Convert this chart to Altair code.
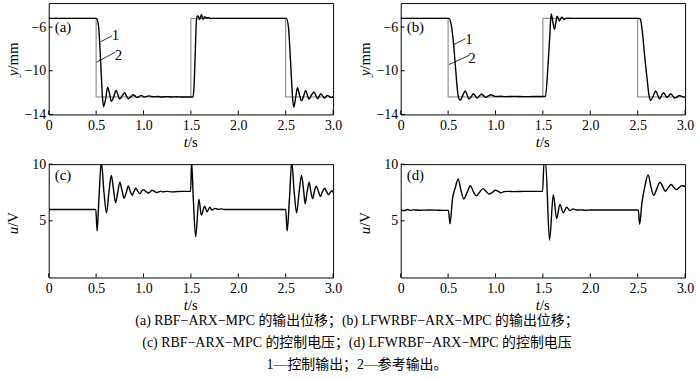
import altair as alt
import pandas as pd

FONT = "Liberation Serif, 'Noto Sans CJK SC', serif"
W, H1, H2 = 286, 112, 114

# ---- tick values ----
x_ticks = [0, 0.5, 1.0, 1.5, 2.0, 2.5, 3.0]
y_ticks = [-14, -10, -6]
u_ticks = [5, 10]

# ---- reference output (curve 2) ----
ref_t = [0, 0.5, 0.5, 1.5, 1.5, 2.5, 2.5, 3.0]
ref_y = [-5.2, -5.2, -12.4, -12.4, -5.2, -5.2, -12.4, -12.4]

# ---- (a) RBF-ARX-MPC output ----
a_t1 = [0, 0.503, 0.515, 0.527, 0.548, 0.567, 0.578, 0.60, 0.622, 0.642,
        0.66, 0.685, 0.71, 0.73, 0.747, 0.775, 0.80, 0.82, 0.839, 0.865,
        0.888, 0.91, 0.93, 0.955, 0.975, 0.995, 1.01, 1.035, 1.06, 1.08,
        1.10, 1.15, 1.2, 1.25, 1.3, 1.35, 1.4, 1.45, 1.523]
a_y1 = [-5.2, -5.2, -5.4, -6.0, -9.2, -12.4, -13.3, -12.6, -11.5, -12.1,
        -12.8, -12.4, -11.8, -12.2, -12.6, -12.3, -12.0, -12.3, -12.56, -12.4,
        -12.2, -12.3, -12.45, -12.35, -12.25, -12.35, -12.4, -12.35, -12.3, -12.35,
        -12.38, -12.36, -12.4, -12.37, -12.4, -12.38, -12.4, -12.4, -12.4]
a_t2 = [1.532, 1.545, 1.558, 1.567, 1.576, 1.593, 1.611, 1.628, 1.646, 1.663,
        1.68, 1.70, 1.75, 1.8, 1.9, 2.0, 2.1, 2.2, 2.3, 2.4, 2.508]
a_y2 = [-11.6, -8.6, -5.4, -5.0, -4.98, -5.3, -4.84, -5.3, -5.05, -5.2,
        -5.12, -5.2, -5.2, -5.2, -5.2, -5.2, -5.2, -5.2, -5.2, -5.2, -5.2]
a_t3 = [2.53, 2.552, 2.572, 2.585, 2.606, 2.624, 2.645, 2.666, 2.69, 2.71,
        2.728, 2.746, 2.773, 2.80, 2.82, 2.84, 2.855, 2.87, 2.89, 2.91,
        2.925, 2.94, 2.96, 2.98, 3.0]
a_y3 = [-6.1, -9.3, -12.4, -13.35, -12.4, -11.55, -12.2, -12.75, -12.3, -11.8,
        -12.2, -12.6, -12.2, -11.95, -12.3, -12.56, -12.3, -12.1, -12.3, -12.5,
        -12.35, -12.25, -12.35, -12.45, -12.35]

# ---- (b) LFWRBF-ARX-MPC output ----
b_t1 = [0, 0.509, 0.534, 0.558, 0.579, 0.60, 0.614, 0.628, 0.652, 0.68,
        0.70, 0.719, 0.745, 0.767, 0.785, 0.806, 0.83, 0.855, 0.877, 0.90,
        0.925, 0.952, 0.98, 1.004, 1.05, 1.1, 1.2, 1.3, 1.4, 1.527]
b_y1 = [-5.2, -5.2, -5.85, -7.6, -9.8, -11.9, -12.57, -12.7, -12.3, -11.85,
        -12.2, -12.6, -12.35, -12.1, -12.3, -12.5, -12.3, -12.15, -12.3, -12.45,
        -12.3, -12.2, -12.3, -12.36, -12.33, -12.37, -12.35, -12.37, -12.36, -12.36]
b_t2 = [1.552, 1.573, 1.587, 1.605, 1.622, 1.636, 1.65, 1.662, 1.674, 1.687,
        1.70, 1.712, 1.725, 1.75, 1.8, 1.9, 2.0, 2.1, 2.2, 2.3, 2.4, 2.515]
b_y2 = [-9.8, -6.76, -4.8, -5.5, -6.2, -5.6, -5.0, -5.2, -5.45, -5.25,
        -5.1, -5.2, -5.3, -5.18, -5.2, -5.2, -5.2, -5.2, -5.2, -5.2, -5.2, -5.2]
b_t3 = [2.529, 2.55, 2.575, 2.60, 2.62, 2.637, 2.665, 2.69, 2.71, 2.73,
        2.75, 2.773, 2.79, 2.81, 2.828, 2.846, 2.87, 2.89, 2.915, 2.94,
        2.965, 2.985, 3.0]
b_y3 = [-5.3, -6.5, -8.8, -10.8, -12.3, -12.7, -12.3, -11.85, -12.2, -12.57,
        -12.3, -12.0, -12.2, -12.45, -12.3, -12.1, -12.3, -12.5, -12.4, -12.27,
        -12.35, -12.42, -12.4]

# ---- (c) RBF-ARX-MPC control voltage ----
c_t1 = [0, 0.497, 0.51, 0.53, 0.555, 0.583, 0.61, 0.635, 0.66, 0.683,
        0.705, 0.728, 0.75, 0.773, 0.795, 0.818, 0.84, 0.86, 0.88, 0.90,
        0.92, 0.94, 0.96, 0.98, 1.0, 1.025, 1.05, 1.07, 1.09, 1.115,
        1.14, 1.16, 1.18, 1.2, 1.22, 1.25, 1.3, 1.35, 1.4, 1.45, 1.497]
c_u1 = [6.0, 6.0, 4.1, 7.0, 10.2, 7.5, 5.7, 7.5, 9.0, 7.8,
        6.6, 7.5, 8.4, 7.7, 7.0, 7.5, 8.07, 7.6, 7.28, 7.6,
        7.87, 7.6, 7.4, 7.6, 7.75, 7.6, 7.45, 7.55, 7.7, 7.6,
        7.5, 7.55, 7.62, 7.55, 7.58, 7.6, 7.55, 7.58, 7.6, 7.6, 7.6]
c_t2 = [1.507, 1.525, 1.55, 1.585, 1.61, 1.645, 1.67, 1.70, 1.72, 1.755,
        1.79, 1.82, 1.85, 1.9, 2.0, 2.1, 2.2, 2.3, 2.4, 2.5]
c_u2 = [10.2, 7.0, 3.6, 6.9, 5.5, 6.3, 5.8, 6.2, 5.95, 6.1,
        6.0, 6.05, 6.0, 6.0, 6.0, 6.0, 6.0, 6.0, 6.0, 6.0]
c_t3 = [2.515, 2.54, 2.563, 2.59, 2.615, 2.64, 2.667, 2.69, 2.705, 2.725,
        2.748, 2.765, 2.785, 2.80, 2.822, 2.845, 2.865, 2.885, 2.91, 2.93,
        2.95, 2.97, 2.99, 3.0]
c_u3 = [4.1, 7.0, 10.2, 7.5, 5.7, 7.4, 9.0, 7.6, 6.5, 7.5,
        8.4, 7.6, 6.95, 7.5, 8.05, 7.6, 7.15, 7.5, 7.87, 7.6,
        7.3, 7.5, 7.65, 7.5]

# ---- (d) LFWRBF-ARX-MPC control voltage ----
d_t1 = [0, 0.04, 0.07, 0.1, 0.13, 0.2, 0.3, 0.4, 0.503, 0.52,
        0.547, 0.575, 0.607, 0.635, 0.666, 0.70, 0.735, 0.765, 0.797, 0.83,
        0.867, 0.9, 0.93, 0.965, 0.999, 1.03, 1.057, 1.09, 1.13, 1.2,
        1.3, 1.4, 1.497]
d_u1 = [5.95, 5.9, 6.0, 5.92, 5.97, 5.93, 5.95, 5.93, 5.92, 4.74,
        7.0, 7.9, 8.7, 7.7, 6.93, 7.5, 8.1, 7.6, 7.2, 7.5,
        7.84, 7.6, 7.37, 7.5, 7.7, 7.6, 7.46, 7.58, 7.6, 7.58,
        7.6, 7.6, 7.6]
d_t2 = [1.512, 1.528, 1.57, 1.61, 1.645, 1.68, 1.715, 1.75, 1.785, 1.82,
        1.85, 1.9, 1.95, 2.0, 2.1, 2.2, 2.3, 2.4, 2.507]
d_u2 = [10.2, 10.2, 3.3, 7.3, 5.2, 6.45, 5.7, 6.2, 5.9, 6.05,
        5.95, 5.97, 5.93, 5.95, 5.95, 5.95, 5.95, 5.95, 5.95]
d_t3 = [2.52, 2.545, 2.575, 2.61, 2.64, 2.67, 2.70, 2.735, 2.765, 2.79,
        2.82, 2.855, 2.88, 2.91, 2.94, 2.965, 3.0]
d_u3 = [4.7, 6.6, 8.0, 9.05, 8.0, 7.25, 7.8, 8.4, 8.0, 7.6,
        7.9, 8.2, 7.95, 7.75, 7.95, 8.1, 8.05]

# ---- annotation leaders "1" / "2" ----
a_lead_t = [0.545, 0.503]
a_lead_y = [-7.35, -9.23]
a_lead_t2 = [0.668, 0.70]
a_lead_y2 = [-6.8, -8.3]
a_lab_t = [0.703, 0.737]
a_lab_y = [-6.77, -8.56]
b_lead_t = [0.558, 0.509]
b_lead_y = [-7.6, -9.43]
b_lead_t2 = [0.684, 0.726]
b_lead_y2 = [-7.06, -8.57]
b_lab_t = [0.719, 0.753]
b_lab_y = [-7.12, -8.82]
curve_labels = ["1", "2"]

caption_lines = [
    "(a) RBF\u2212ARX\u2212MPC 的输出位移；(b) LFWRBF\u2212ARX\u2212MPC 的输出位移；",
    "(c) RBF\u2212ARX\u2212MPC 的控制电压；(d) LFWRBF\u2212ARX\u2212MPC 的控制电压",
    "1—控制输出；2—参考输出。",
]


def df(t, v):
    return pd.DataFrame({"t": t, "v": v, "i": list(range(len(t)))})


X_AXIS = alt.Axis(values=x_ticks, title=None, ticks=False, domain=False, grid=False,
                  labelExpr="datum.value == 0 ? '0' : format(datum.value, '.1f')",
                  labelPadding=4, labelFlush=False)


def xenc(field="t"):
    return alt.X(f"{field}:Q", scale=alt.Scale(domain=[0, 3], nice=False, zero=False), axis=X_AXIS)


def yenc(dom, ticks, field="v"):
    return alt.Y(f"{field}:Q", scale=alt.Scale(domain=dom, nice=False, zero=False),
                 axis=alt.Axis(values=ticks, title=None, ticks=False, domain=False, grid=False,
                               labelPadding=3, labelFlush=False))


def one_text(s):
    return pd.DataFrame({"s": [s]})


def panel(curve, dom, ticks, H, tag, ylab_main, ylab_unit, ylab_y, ref=None,
          lead=None, extra=None):
    layers = []
    if ref is not None:
        layers.append(alt.Chart(ref).mark_line(color="#7a7a7a", strokeWidth=1).encode(
            x=xenc(), y=yenc(dom, ticks), order="i:Q"))
    layers.append(alt.Chart(curve).mark_line(color="black", strokeWidth=1.4,
                                             interpolate="monotone", clip=True).encode(
        x=xenc(), y=yenc(dom, ticks), order="i:Q"))
    # inward ticks
    layers.append(alt.Chart(pd.DataFrame({"t": x_ticks})).mark_rule(color="black").encode(
        x=xenc(), y=alt.value(H), y2=alt.value(H - 4)))
    layers.append(alt.Chart(pd.DataFrame({"v": ticks})).mark_rule(color="black").encode(
        y=yenc(dom, ticks), x=alt.value(0), x2=alt.value(4)))
    if lead is not None:
        lt, ly, lt2, ly2, tt, ty = lead
        ld = pd.DataFrame({"t": lt, "v": ly, "t2": lt2, "v2": ly2})
        layers.append(alt.Chart(ld).mark_rule(color="black", strokeWidth=0.8).encode(
            x=xenc(), y=yenc(dom, ticks), x2="t2:Q", y2="v2:Q"))
        td = pd.DataFrame({"t": tt, "v": ty, "s": curve_labels})
        layers.append(alt.Chart(td).mark_text(font=FONT, fontSize=15, color="black",
                                              align="center", baseline="middle").encode(
            x=xenc(), y=yenc(dom, ticks), text="s:N"))
    # panel tag
    layers.append(alt.Chart(one_text(tag)).mark_text(font=FONT, fontSize=15, color="black",
                                                    align="left", baseline="middle").encode(
        x=alt.value(6), y=alt.value(24 if H == H1 else 11), text="s:N"))
    # y title: italic variable + unit
    layers.append(alt.Chart(one_text(ylab_main)).mark_text(
        font=FONT, fontSize=15, fontStyle="italic", color="black", angle=270,
        align="right", baseline="middle").encode(
        x=alt.value(-36), y=alt.value(ylab_y), text="s:N"))
    layers.append(alt.Chart(one_text(ylab_unit)).mark_text(
        font=FONT, fontSize=15, color="black", angle=270,
        align="left", baseline="middle").encode(
        x=alt.value(-36), y=alt.value(ylab_y), text="s:N"))
    # x title t/s
    layers.append(alt.Chart(one_text("t")).mark_text(
        font=FONT, fontSize=15, fontStyle="italic", color="black",
        align="right", baseline="middle").encode(
        x=alt.value(140), y=alt.value(H + 28), text="s:N"))
    layers.append(alt.Chart(one_text("/s")).mark_text(
        font=FONT, fontSize=15, color="black",
        align="left", baseline="middle").encode(
        x=alt.value(140), y=alt.value(H + 28), text="s:N"))
    if extra is not None:
        layers.append(extra)
    return alt.layer(*layers).properties(width=W, height=H)


ref_df = pd.DataFrame({"t": ref_t, "v": ref_y, "i": list(range(len(ref_t)))})

pa = panel(df(a_t1 + a_t2 + a_t3, a_y1 + a_y2 + a_y3), [-14, -3.8], y_ticks, H1, "(a)",
           "y", "/mm", 67, ref=ref_df,
           lead=(a_lead_t, a_lead_y, a_lead_t2, a_lead_y2, a_lab_t, a_lab_y))
pb = panel(df(b_t1 + b_t2 + b_t3, b_y1 + b_y2 + b_y3), [-14, -3.8], y_ticks, H1, "(b)",
           "y", "/mm", 67, ref=ref_df,
           lead=(b_lead_t, b_lead_y, b_lead_t2, b_lead_y2, b_lab_t, b_lab_y))

caption = alt.Chart(one_text("c")).mark_text(
    font=FONT, fontSize=14, color="black", align="center", baseline="middle",
    lineHeight=22).encode(x=alt.value(310), y=alt.value(158), text=alt.value(caption_lines))

pc = panel(df(c_t1 + c_t2 + c_t3, c_u1 + c_u2 + c_u3), [0, 10], u_ticks, H2, "(c)",
           "u", "/V", 63, extra=caption)
pd_ = panel(df(d_t1 + d_t2 + d_t3, d_u1 + d_u2 + d_u3), [0, 10], u_ticks, H2, "(d)",
            "u", "/V", 63)

chart = alt.concat(pa, pb, pc, pd_, columns=2,
                   spacing=alt.RowColnumber(row=50, column=68), bounds="flush").properties(
    padding={"left": 5, "top": 1, "right": 5, "bottom": 5},
    background="white",
).configure_view(stroke="black", strokeWidth=1).configure_axis(
    labelFont="Liberation Serif", labelFontSize=14, labelColor="black")

chart.save("out.html", embed_options={"renderer": "svg", "actions": False})
